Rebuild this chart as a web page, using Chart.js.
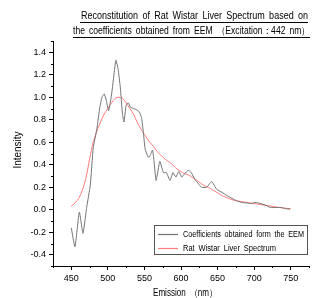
<!DOCTYPE html>
<html lang="en">
<head>
<meta charset="UTF-8">
<title>Rat Wistar Liver Spectrum</title>
<script src="https://cdn.jsdelivr.net/npm/chart.js"></script>
<style>
  html, body { margin: 0; padding: 0; background: #fff; }
</style>
</head>
<body>
<canvas id="grafico" width="317" height="298"></canvas>
<script>
// ================= DATOS =================
const titleLines = [
  "Reconstitution of Rat Wistar Liver Spectrum based on",
  "the coefficients obtained from EEM \uFF08Excitation\uFF1A442 nm\uFF09"
];
const xTitle = "Emission \uFF08nm\uFF09";
const yTitle = "Intensity";
const seriesNames = ["Coefficients obtained form the EEM", "Rat Wistar Liver Spectrum"];

const xTicks = [450, 500, 550, 600, 650, 700, 750];
const yTicks = [-0.4, -0.2, 0.0, 0.2, 0.4, 0.6, 0.8, 1.0, 1.2, 1.4];

// serie gris (coeficientes EEM)
const eemNm = [450, 455, 461, 466, 471, 476, 480, 485, 489, 492, 495, 498, 501, 505, 509, 511, 514, 517, 520, 522,
  525, 528, 531, 535, 539, 543, 546, 548, 551, 555, 557, 561, 563, 566, 571, 576, 580, 585, 589, 593,
  597, 601, 605, 610, 614, 619, 624, 628, 635, 642, 649, 656, 663, 670, 676, 683, 690, 695, 703, 711,
  716, 722, 730, 737, 743, 749];
const eemIntensity = [-0.16, -0.33, -0.02, -0.21, 0.02, 0.22, 0.55, 0.72, 0.91, 1.00, 1.03, 0.97, 0.88, 1.02, 1.24, 1.33, 1.25, 1.09, 0.85, 0.78,
  0.93, 0.95, 0.91, 0.90, 0.89, 0.87, 0.82, 0.72, 0.54, 0.47, 0.47, 0.53, 0.44, 0.26, 0.43, 0.33, 0.33, 0.26, 0.33, 0.29,
  0.34, 0.29, 0.32, 0.35, 0.33, 0.27, 0.23, 0.20, 0.20, 0.25, 0.18, 0.155, 0.125, 0.10, 0.08, 0.065, 0.06, 0.055, 0.065, 0.05,
  0.04, 0.02, 0.02, 0.02, 0.01, 0.005];

// serie roja (espectro del higado)
const ratNm = [450, 455, 460, 465, 470, 475, 480, 485, 490, 495, 500, 505, 510, 515, 520, 525, 530, 535, 540, 545,
  550, 555, 560, 565, 570, 575, 580, 585, 590, 595, 600, 605, 610, 615, 620, 625, 630, 635, 640, 645,
  650, 655, 660, 665, 670, 675, 680, 685, 690, 695, 700, 705, 710, 715, 720, 725, 730, 735, 740, 745, 750];
const ratIntensity = [0.03, 0.06, 0.10, 0.17, 0.28, 0.45, 0.60, 0.70, 0.78, 0.85, 0.90, 0.95, 0.99, 1.00, 0.99, 0.95, 0.90, 0.85, 0.78, 0.72,
  0.67, 0.62, 0.58, 0.54, 0.50, 0.47, 0.44, 0.42, 0.39, 0.36, 0.34, 0.32, 0.31, 0.29, 0.27, 0.245, 0.22, 0.205, 0.19, 0.17,
  0.15, 0.13, 0.115, 0.10, 0.09, 0.08, 0.075, 0.07, 0.065, 0.06, 0.055, 0.05, 0.045, 0.04, 0.035, 0.03, 0.025, 0.02, 0.015, 0.012, 0.01];

const grayColor = "#747474";
const redColor = "#ff7b7b";
const FONT = "'Liberation Sans', Arial, sans-serif";

// ================= PLUGIN: titulo, leyenda, ticks menores =================
// dibuja el texto a la izquierda en x y lo estira/comprime hasta "width"
function fitText(ctx, text, x, y, width) {
  const gaps = text.split(" ").length - 1;
  ctx.wordSpacing = "0px";
  const w = ctx.measureText(text).width;
  let sp = gaps > 0 ? (width - w) / gaps : 0;
  let sx = 1;
  if (sp < 2) {
    sp = gaps > 0 ? 2 : 0;
    sx = width / (w + sp * gaps);
  }
  ctx.save();
  ctx.textAlign = "left";
  ctx.wordSpacing = sp + "px";
  ctx.translate(x, y);
  ctx.scale(sx, 1);
  ctx.fillText(text, 0, 0);
  ctx.restore();
}

const decor = {
  id: "decor",
  afterDraw(chart) {
    const ctx = chart.ctx;
    const xs = chart.scales.x, ys = chart.scales.y;
    ctx.save();
    ctx.fillStyle = "#000";
    ctx.strokeStyle = "#000";
    ctx.lineWidth = 1;

    // titulo subrayado
    ctx.font = "10px " + FONT;
    ctx.textBaseline = "middle";
    fitText(ctx, titleLines[0], 81, 16, 227);
    fitText(ctx, titleLines[1], 73, 31.5, 237);
    ctx.beginPath();
    ctx.moveTo(80, 22.5); ctx.lineTo(308, 22.5);
    ctx.moveTo(73, 37.5); ctx.lineTo(310, 37.5);
    ctx.stroke();

    // titulos de ejes
    ctx.font = "10px " + FONT;
    fitText(ctx, xTitle, 153, 293, 64);
    ctx.save();
    ctx.translate(18, 150);
    ctx.rotate(-Math.PI / 2);
    ctx.textAlign = "center";
    ctx.fillText(yTitle, 0, 0);
    ctx.restore();

    // ticks menores
    ctx.beginPath();
    for (let v = -5; v <= 15; v += 2) {
      const py = Math.round(ys.getPixelForValue(v / 10)) + 0.5;
      ctx.moveTo(xs.left - 2, py); ctx.lineTo(xs.left, py);
    }
    for (let v = 425; v <= 775; v += 50) {
      const px = Math.round(xs.getPixelForValue(v)) + 0.5;
      ctx.moveTo(px, ys.bottom); ctx.lineTo(px, ys.bottom + 2);
    }
    ctx.stroke();

    // leyenda
    ctx.strokeStyle = "#555";
    ctx.strokeRect(154.5, 225.5, 153, 29);
    ctx.lineWidth = 1.2;
    ctx.strokeStyle = grayColor;
    ctx.beginPath(); ctx.moveTo(158, 234.5); ctx.lineTo(178, 234.5); ctx.stroke();
    ctx.strokeStyle = redColor;
    ctx.beginPath(); ctx.moveTo(158, 248.5); ctx.lineTo(178, 248.5); ctx.stroke();
    ctx.font = "8.5px " + FONT;
    ctx.fillStyle = "#000";
    fitText(ctx, seriesNames[0], 183, 234.5, 121);
    fitText(ctx, seriesNames[1], 183, 248.5, 93);
    ctx.restore();
  }
};

// ================= GRAFICO =================
const ctx = document.getElementById("grafico").getContext("2d");
new Chart(ctx, {
  type: "scatter",
  data: {
    datasets: [
      {
        label: seriesNames[0],
        data: eemNm.map((x, i) => ({ x, y: eemIntensity[i] })),
        showLine: true,
        borderColor: grayColor,
        borderWidth: 1,
        pointRadius: 0,
        tension: 0.15
      },
      {
        label: seriesNames[1],
        data: ratNm.map((x, i) => ({ x, y: ratIntensity[i] })),
        showLine: true,
        borderColor: redColor,
        borderWidth: 1,
        pointRadius: 0,
        tension: 0.3
      }
    ]
  },
  options: {
    responsive: false,
    animation: false,
    layout: { padding: { top: 41, right: 8, left: 0, bottom: 0 } },
    plugins: {
      legend: { display: false },
      tooltip: { enabled: false }
    },
    scales: {
      x: {
        type: "linear",
        min: 425,
        max: 775,
        afterBuildTicks: s => { s.ticks = xTicks.map(v => ({ value: v })); },
        afterFit: s => { s.height = 32; },
        grid: { drawOnChartArea: false, drawTicks: true, tickLength: 4, color: "#000" },
        border: { color: "#000", width: 1 },
        ticks: { color: "#000", font: { family: FONT, size: 9 }, padding: 3, maxRotation: 0 }
      },
      y: {
        type: "linear",
        min: -0.5,
        max: 1.5,
        afterBuildTicks: s => { s.ticks = yTicks.map(v => ({ value: v })); },
        afterFit: s => { s.width = 53; },
        grid: { drawOnChartArea: false, drawTicks: true, tickLength: 4, color: "#000" },
        border: { color: "#000", width: 1 },
        ticks: {
          color: "#000",
          font: { family: FONT, size: 9 },
          padding: 3,
          callback: v => v.toFixed(1)
        }
      }
    }
  },
  plugins: [decor]
});
</script>
</body>
</html>
